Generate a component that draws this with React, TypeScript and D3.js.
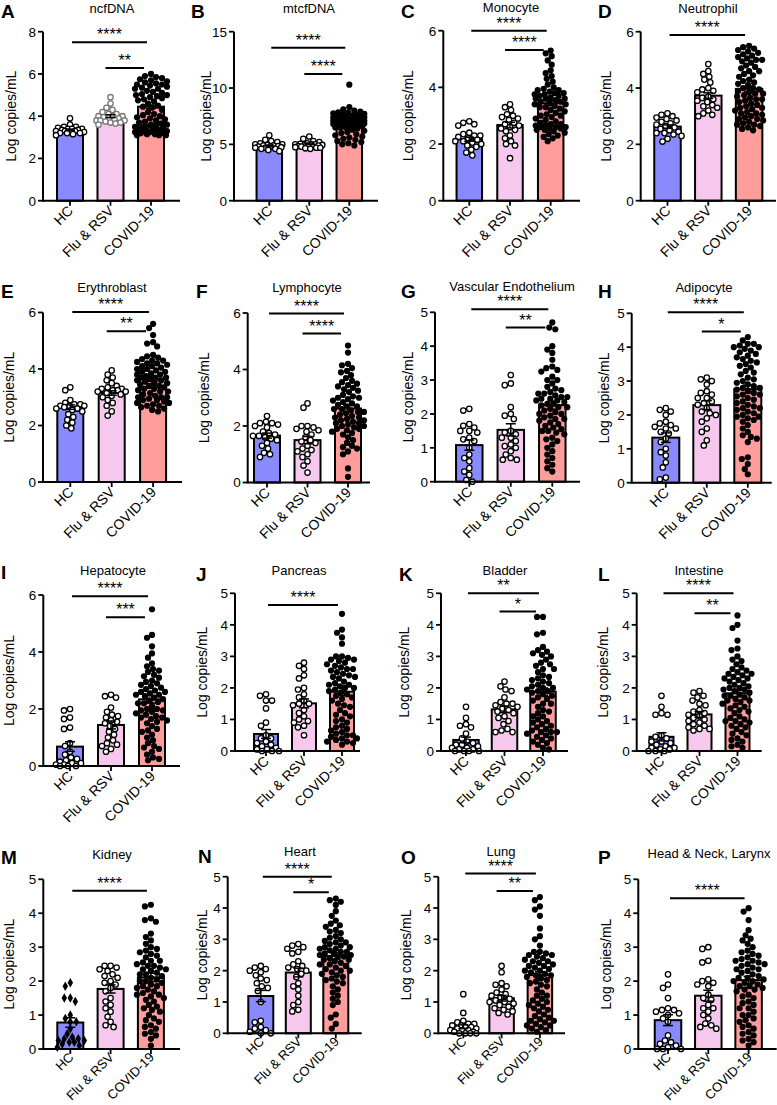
import React from "react";
import * as d3 from "d3";

const FONT = "'Liberation Sans', Arial, Helvetica, sans-serif";
const GROUPS = ["HC", "Flu & RSV", "COVID-19"];
const FILLS = ["#8a8aff", "#f6c8ee", "#ff9c9c"];

const LETTERS = ["A","B","C","D","E","F","G","H","I","J","K","L","M","N","O","P"];
const TITLES = ["ncfDNA","mtcfDNA","Monocyte","Neutrophil","Erythroblast","Lymphocyte","Vascular Endothelium","Adipocyte","Hepatocyte","Pancreas","Bladder","Intestine","Kidney","Heart","Lung","Head & Neck, Larynx"];
const Y_MAX = [8,15,6,6,6,6,5,5,6,5,5,5,5,5,5,5];
const Y_TICKS = [
  [0,2,4,6,8],[0,5,10,15],[0,2,4,6],[0,2,4,6],[0,2,4,6],[0,2,4,6],[0,1,2,3,4,5],[0,1,2,3,4,5],
  [0,2,4,6],[0,1,2,3,4,5],[0,1,2,3,4,5],[0,1,2,3,4,5],[0,1,2,3,4,5],[0,1,2,3,4,5],[0,1,2,3,4,5],[0,1,2,3,4,5]
];
const MEANS = [
  [3.35,4.0,4.45],[4.85,5.05,6.9],[2.17,2.67,3.44],[2.63,3.73,3.97],
  [2.65,3.15,3.65],[1.66,1.5,2.62],[1.08,1.53,2.26],[1.33,2.29,2.76],
  [0.68,1.44,2.34],[0.54,1.51,1.88],[0.35,1.32,1.88],[0.45,1.16,1.83],
  [0.78,1.77,2.11],[1.19,1.94,2.47],[0.21,1.12,1.86],[0.85,1.57,2.03]
];
const SEMS = [
  [0.04,0.07,0.08],[0.07,0.07,0.1],[0.07,0.1,0.09],[0.06,0.1,0.09],
  [0.08,0.08,0.08],[0.09,0.13,0.12],[0.15,0.18,0.12],[0.14,0.13,0.12],
  [0.17,0.14,0.13],[0.14,0.14,0.12],[0.09,0.1,0.12],[0.13,0.09,0.11],
  [0.14,0.12,0.12],[0.18,0.14,0.1],[0.06,0.09,0.11],[0.16,0.16,0.11]
];
// [fromGroup, toGroup, y value, label]
const SIGS: [number, number, number, string][][] = [
  [[0,2,7.5,"****"],[1,2,6.28,"**"]],
  [[0,2,13.58,"****"],[1,2,11.24,"****"]],
  [[0,2,6.0,"****"],[1,2,5.32,"****"]],
  [[0,2,5.88,"****"]],
  [[0,2,6.02,"****"],[1,2,5.34,"**"]],
  [[0,2,5.98,"****"],[1,2,5.27,"****"]],
  [[0,2,5.09,"****"],[1,2,4.55,"**"]],
  [[0,2,5.03,"****"],[1,2,4.46,"*"]],
  [[0,2,5.96,"****"],[1,2,5.22,"***"]],
  [[0,2,4.63,"****"]],
  [[0,2,5.0,"**"],[1,2,4.42,"*"]],
  [[0,2,5.0,"****"],[1,2,4.37,"**"]],
  [[0,2,4.66,"****"]],
  [[0,2,5.0,"****"],[1,2,4.5,"*"]],
  [[0,2,5.1,"****"],[1,2,4.54,"**"]],
  [[0,2,4.44,"****"]]
];

// individual points
const A_HC = [3.9,3.6,3.5,3.5,3.45,3.4,3.4,3.4,3.35,3.35,3.3,3.3,3.3,3.25,3.25,3.2,3.2,3.2,3.15,3.1];
const A_FLU = [4.9,4.6,4.4,4.3,4.2,4.1,4.1,4.0,4.0,3.95,3.9,3.9,3.85,3.8,3.8,3.75,3.7,3.7,3.65,3.6,3.8,4.0];
const A_COV = [6.0,5.9,5.85,5.8,5.75,5.7,5.65,5.6,5.55,5.5,5.5,5.45,5.4,5.35,5.3,5.3,5.2,5.15,5.1,5.05,5.0,5.0,4.95,4.9,4.85,4.8,4.75,4.7,4.6,4.5,4.45,4.4,4.3,4.2,4.1,4.05,4.0,3.95,3.9,3.85,3.8,3.75,3.7,3.65,3.6,3.6,3.55,3.5,3.5,3.45,3.4,3.4,3.35,3.3,3.3,3.25,3.25,3.2,3.2,3.15,3.15,3.1,3.1,3.1,3.5];
const B_HC = [5.8,5.4,5.3,5.2,5.1,5.0,5.0,4.95,4.9,4.9,4.85,4.8,4.8,4.75,4.7,4.7,4.6,4.6,4.5,4.4];
const B_FLU = [5.7,5.5,5.3,5.2,5.1,5.05,5.0,5.0,4.95,4.9,4.85,4.8,4.8,4.75,4.7,4.7,4.65,4.6,4.8,5.0,4.9];
const B_COV = [10.3,8.3,8.1,8.0,7.9,7.85,7.8,7.75,7.7,7.65,7.6,7.55,7.5,7.5,7.45,7.4,7.4,7.35,7.3,7.3,7.25,7.2,7.2,7.15,7.1,7.1,7.05,7.0,7.0,6.95,6.9,6.9,6.85,6.8,6.8,6.75,6.7,6.7,6.65,6.6,6.55,6.5,6.5,6.4,6.3,6.2,6.1,6.0,5.9,5.8,5.7,5.6,5.5,5.4,5.3,5.2,5.1,5.0,4.9,6.6,6.8,7.0,7.2,7.4,6.9];
const C_HC = [2.8,2.75,2.7,2.65,2.4,2.35,2.3,2.3,2.25,2.2,2.15,2.1,2.1,2.05,2.0,1.95,1.9,1.8,1.7,1.6];
const C_FLU = [3.4,3.3,3.2,3.05,3.0,2.95,2.9,2.85,2.75,2.7,2.65,2.6,2.55,2.5,2.45,2.3,2.2,2.1,2.0,1.95,1.5];
const C_COV = [5.3,5.2,5.1,4.95,4.8,4.6,4.5,4.4,4.3,4.2,4.1,4.0,3.95,3.9,3.85,3.8,3.8,3.75,3.7,3.7,3.65,3.6,3.6,3.55,3.5,3.5,3.45,3.4,3.4,3.35,3.3,3.25,3.2,3.15,3.1,3.05,3.0,2.95,2.9,2.85,2.8,2.75,2.7,2.7,2.65,2.6,2.6,2.55,2.55,2.5,2.5,2.45,2.4,2.35,2.3,2.25,2.2,2.1,3.9,3.6,3.3,2.6,2.65,3.75,3.0];
const D_HC = [3.1,3.05,3.0,2.95,2.9,2.85,2.8,2.75,2.7,2.65,2.6,2.55,2.5,2.45,2.4,2.4,2.35,2.3,2.2,2.1];
const D_FLU = [4.85,4.6,4.5,4.4,4.3,4.2,4.0,3.95,3.9,3.85,3.7,3.65,3.6,3.55,3.5,3.4,3.35,3.3,3.2,3.1,3.0,3.05];
const D_COV = [5.5,5.45,5.4,5.35,5.3,5.2,5.15,5.1,5.05,5.0,4.95,4.9,4.8,4.75,4.7,4.6,4.5,4.45,4.4,4.3,4.2,4.15,4.1,4.0,3.95,3.9,3.85,3.8,3.75,3.7,3.65,3.6,3.55,3.5,3.45,3.4,3.35,3.3,3.25,3.2,3.15,3.1,3.05,3.0,2.95,2.9,2.85,2.8,2.75,2.7,2.65,2.6,2.55,2.5,3.1,3.3,3.6,4.0,4.6,5.0,2.7,2.9,3.8,4.25,5.25];
const E_HC = [3.35,3.25,2.9,2.8,2.75,2.75,2.7,2.7,2.7,2.65,2.6,2.6,2.55,2.5,2.4,2.3,2.2,2.1,2.0,1.9];
const E_FLU = [3.95,3.8,3.7,3.6,3.5,3.4,3.35,3.3,3.3,3.25,3.2,3.2,3.15,3.1,3.05,3.0,2.9,2.8,2.7,2.5,2.35,3.25];
const E_COV = [5.6,5.45,5.2,4.95,4.9,4.8,4.5,4.45,4.4,4.35,4.3,4.25,4.2,4.2,4.15,4.1,4.05,4.0,4.0,3.95,3.9,3.85,3.8,3.8,3.75,3.7,3.7,3.65,3.6,3.55,3.5,3.5,3.45,3.4,3.35,3.3,3.3,3.25,3.2,3.15,3.1,3.05,3.0,3.0,2.95,2.9,2.85,2.8,2.8,2.75,2.7,2.7,2.65,2.6,2.55,2.5,3.6,3.9,4.1,3.4,3.2,2.9,3.7,4.3,3.0];
const F_HC = [2.35,2.15,2.1,2.1,2.05,2.0,1.95,1.8,1.75,1.7,1.65,1.6,1.55,1.5,1.4,1.3,1.2,1.05,1.0,0.9,1.65];
const F_FLU = [2.8,2.65,2.0,2.0,1.95,1.9,1.8,1.7,1.6,1.5,1.45,1.4,1.3,1.2,1.15,1.1,1.0,0.9,0.75,0.6,0.35,1.85];
const F_COV = [4.85,4.6,4.2,4.15,4.05,3.95,3.9,3.7,3.6,3.55,3.5,3.45,3.4,3.35,3.3,3.2,3.1,3.05,3.0,2.95,2.9,2.85,2.8,2.75,2.7,2.6,2.55,2.5,2.5,2.45,2.4,2.35,2.3,2.25,2.2,2.2,2.15,2.1,2.05,2.0,2.0,1.95,1.9,1.85,1.8,1.75,1.7,1.6,1.5,1.4,1.3,1.25,1.2,1.1,1.0,0.5,0.2,3.8,3.0,2.6,2.3,1.9,2.7,3.25,2.1];
const G_HC = [2.15,2.1,1.7,1.65,1.6,1.5,1.5,1.45,1.3,1.25,1.2,1.0,0.8,0.7,0.6,0.4,0.2,0.05,0.0,0.3];
const G_FLU = [3.15,2.9,2.85,2.2,2.0,1.95,1.85,1.5,1.45,1.4,1.3,1.2,1.1,1.05,1.0,0.9,0.8,0.7,0.65,0.65,1.3];
const G_COV = [4.7,4.55,4.5,4.0,3.9,3.8,3.6,3.4,3.35,3.3,3.25,3.1,3.0,2.9,2.8,2.7,2.65,2.6,2.55,2.5,2.5,2.45,2.4,2.4,2.35,2.3,2.3,2.25,2.2,2.2,2.15,2.1,2.05,2.0,1.95,1.9,1.85,1.8,1.75,1.7,1.65,1.6,1.55,1.5,1.45,1.4,1.3,1.2,1.1,1.0,0.9,0.8,0.7,0.6,0.5,0.4,0.3,2.6,2.0,1.5,3.0,2.45,1.85,2.75,1.25];
const H_HC = [2.2,2.15,2.1,2.0,1.8,1.75,1.7,1.65,1.6,1.5,1.45,1.3,1.2,1.0,0.9,0.8,0.6,0.45,0.15,0.1,1.6];
const H_FLU = [3.1,3.05,3.0,2.9,2.7,2.65,2.6,2.5,2.4,2.35,2.3,2.2,2.1,2.05,2.0,1.9,1.8,1.6,1.5,1.25,1.1,2.5];
const H_COV = [4.3,4.2,4.1,4.1,4.05,4.0,4.0,3.95,3.9,3.85,3.8,3.7,3.6,3.55,3.5,3.45,3.4,3.3,3.2,3.1,3.05,3.0,2.95,2.9,2.85,2.8,2.75,2.7,2.65,2.6,2.55,2.5,2.45,2.4,2.35,2.3,2.25,2.2,2.15,2.1,2.05,2.0,1.95,1.9,1.85,1.8,1.7,1.6,1.5,1.4,1.35,1.3,0.75,0.55,0.4,0.25,3.75,3.25,2.6,2.2,1.95,3.65,2.8,1.2,0.7];
const I_HC = [2.0,1.95,1.7,1.65,1.35,1.3,0.7,0.5,0.4,0.3,0.25,0.2,0.15,0.1,0.1,0.05,0.05,0.0,0.0,0.0,0.8];
const I_FLU = [2.5,2.45,2.4,2.05,1.9,1.75,1.7,1.6,1.55,1.5,1.4,1.3,1.2,1.0,0.9,0.8,0.75,0.7,0.6,0.5,1.1,1.8];
const I_COV = [5.5,4.6,4.5,4.2,3.95,3.8,3.5,3.4,3.3,3.2,3.15,3.1,3.0,2.95,2.9,2.8,2.75,2.7,2.65,2.6,2.55,2.5,2.45,2.4,2.35,2.3,2.25,2.2,2.1,2.0,1.95,1.9,1.85,1.8,1.75,1.7,1.65,1.6,1.5,1.4,1.3,1.2,1.1,1.0,0.9,0.8,0.7,0.6,0.5,0.4,0.3,0.2,2.6,2.2,1.7,3.6,2.85,1.95,3.35,0.65,1.55,2.5,1.25,0.25,2.0];
const J_HC = [1.8,1.75,1.6,1.6,1.35,0.9,0.8,0.5,0.4,0.3,0.25,0.2,0.15,0.1,0.05,0.05,0.0,0.0,0.0,0.4];
const J_FLU = [2.8,2.7,2.6,2.4,2.3,2.0,1.95,1.8,1.7,1.6,1.5,1.45,1.3,1.2,1.1,1.0,0.95,0.9,0.8,0.75,0.5,1.5];
const J_COV = [4.35,3.85,3.75,3.6,3.4,3.0,2.95,2.9,2.85,2.8,2.75,2.7,2.6,2.55,2.5,2.45,2.4,2.35,2.3,2.2,2.15,2.1,2.05,2.0,1.95,1.9,1.85,1.8,1.7,1.6,1.5,1.4,1.3,1.2,1.1,1.0,0.9,0.8,0.7,0.65,0.6,0.55,0.5,0.45,0.4,0.35,0.3,0.25,0.2,2.6,2.1,1.75,2.9,0.75,0.5,1.45,2.35,0.3,2.65,1.65,2.0,0.95,3.0,1.15,0.4];
const K_HC = [1.4,1.05,0.85,0.8,0.75,0.55,0.4,0.3,0.25,0.2,0.2,0.15,0.1,0.1,0.05,0.05,0.0,0.0,0.0,0.0];
const K_FLU = [2.2,2.05,1.95,1.9,1.7,1.55,1.5,1.45,1.4,1.35,1.3,1.25,1.2,1.1,1.05,0.95,0.85,0.7,0.65,0.6,0.6,1.5];
const K_COV = [4.25,4.25,3.75,3.7,3.3,3.2,3.1,3.05,3.0,2.9,2.8,2.75,2.7,2.6,2.5,2.4,2.3,2.25,2.2,2.15,2.1,2.0,1.95,1.9,1.85,1.8,1.75,1.7,1.6,1.5,1.4,1.3,1.2,1.1,1.0,0.9,0.85,0.8,0.7,0.65,0.6,0.6,0.55,0.5,0.45,0.4,0.35,0.3,0.25,0.2,0.1,0.05,2.05,1.5,0.95,2.6,1.25,3.15,0.75,1.9,2.35,0.6,1.65,2.0,1.1];
const L_HC = [1.75,1.4,1.2,1.15,1.15,0.5,0.45,0.4,0.3,0.25,0.2,0.15,0.1,0.1,0.05,0.05,0.0,0.0,0.0,0.3];
const L_FLU = [1.9,1.85,1.75,1.7,1.6,1.5,1.45,1.3,1.2,1.15,1.1,1.05,1.0,0.95,0.9,0.85,0.8,0.75,0.7,0.7,0.65,1.25];
const L_COV = [4.3,4.0,3.9,3.5,3.25,3.2,3.0,2.9,2.85,2.6,2.55,2.5,2.45,2.4,2.35,2.3,2.25,2.2,2.15,2.1,2.05,2.0,1.95,1.9,1.85,1.8,1.75,1.7,1.65,1.6,1.55,1.5,1.45,1.4,1.3,1.2,1.1,1.0,0.95,0.9,0.85,0.8,0.7,0.6,0.5,0.4,0.3,0.2,0.15,0.1,2.65,1.95,1.35,2.75,0.75,1.25,2.0,0.55,1.6,2.3,1.05,0.35,2.45,1.75,0.95];
const M_HC = [1.95,1.85,1.5,1.5,1.4,1.0,0.9,0.8,0.6,0.45,0.35,0.3,0.3,0.25,0.25,0.2,0.2,0.15,0.1,0.05,0.8];
const M_FLU = [2.45,2.45,2.4,2.35,2.3,2.2,2.15,2.1,2.0,1.95,1.9,1.8,1.7,1.5,1.4,1.3,1.2,1.1,0.95,0.8,0.7,0.65];
const M_COV = [4.25,4.2,3.85,3.8,3.75,3.4,3.3,3.2,3.1,2.9,2.85,2.8,2.7,2.6,2.55,2.5,2.45,2.4,2.35,2.3,2.25,2.2,2.15,2.1,2.05,2.0,1.95,1.9,1.85,1.8,1.75,1.7,1.65,1.6,1.55,1.5,1.4,1.3,1.2,1.1,1.0,0.9,0.8,0.7,0.6,0.5,0.4,0.3,0.1,2.6,2.0,1.45,2.75,0.85,2.45,1.85,3.0,0.65,2.2,1.15,2.95,1.6,0.45,2.35,1.25];
const N_HC = [2.15,2.1,2.05,2.0,1.95,1.85,1.75,1.7,1.6,1.5,1.45,1.35,1.0,0.4,0.35,0.2,0.15,0.1,0.05,0.0,0.0];
const N_FLU = [2.85,2.8,2.75,2.7,2.6,2.55,2.3,2.2,2.1,2.05,2.0,1.9,1.8,1.6,1.5,1.4,1.2,1.0,0.9,0.75,0.7,2.15];
const N_COV = [4.3,4.25,4.2,4.1,3.9,3.75,3.5,3.45,3.4,3.3,3.2,3.1,3.05,3.0,2.95,2.9,2.85,2.8,2.75,2.7,2.7,2.65,2.6,2.55,2.5,2.5,2.45,2.4,2.35,2.3,2.25,2.2,2.15,2.1,2.05,2.0,1.95,1.9,1.85,1.8,1.7,1.6,1.5,1.4,1.3,1.2,1.1,1.0,0.9,0.6,0.5,0.3,0.15,2.6,2.35,2.0,3.25,2.75,1.65,2.45,3.6,2.9,1.75,2.2,2.55];
const O_HC = [1.25,0.65,0.4,0.35,0.3,0.3,0.25,0.25,0.2,0.2,0.15,0.15,0.1,0.1,0.1,0.05,0.05,0.0,0.0,0.0,0.0];
const O_FLU = [2.15,1.95,1.6,1.55,1.5,1.4,1.3,1.25,1.2,1.15,1.1,1.05,1.0,0.95,0.9,0.85,0.8,0.75,0.7,0.65,0.6,1.0];
const O_COV = [4.35,4.25,4.05,3.95,3.75,3.35,3.1,3.0,2.6,2.55,2.5,2.45,2.4,2.35,2.3,2.25,2.2,2.15,2.1,2.05,2.0,1.95,1.9,1.85,1.8,1.75,1.7,1.6,1.5,1.4,1.3,1.2,1.1,1.0,0.95,0.9,0.85,0.8,0.7,0.6,0.55,0.5,0.45,0.4,0.35,0.3,0.25,0.2,0.15,0.1,0.05,2.6,2.0,1.55,2.5,1.2,0.75,2.3,1.65,0.4,2.15,1.05,0.25,1.85,2.8];
const P_HC = [2.2,1.9,1.8,1.5,1.2,1.15,1.1,1.05,1.0,0.9,0.8,0.4,0.25,0.2,0.15,0.1,0.05,0.0,0.0,0.0,1.15];
const P_FLU = [3.0,2.95,2.6,2.55,2.05,2.0,1.95,1.9,1.85,1.6,1.5,1.3,1.2,1.1,1.0,0.9,0.75,0.7,0.65,0.6,1.45,1.2];
const P_COV = [4.15,4.05,3.8,3.5,3.35,3.25,3.2,3.0,2.9,2.8,2.7,2.65,2.6,2.55,2.5,2.45,2.4,2.35,2.3,2.25,2.2,2.15,2.1,2.05,2.0,1.95,1.9,1.85,1.8,1.75,1.7,1.6,1.5,1.4,1.3,1.2,1.1,1.0,0.9,0.8,0.7,0.6,0.5,0.4,0.3,0.25,0.2,0.1,2.6,2.0,1.55,2.75,1.2,0.65,2.35,1.85,3.1,0.45,2.5,1.0,2.1,1.75,0.85,2.85,1.35];

const POINTS = [
  [A_HC,A_FLU,A_COV],[B_HC,B_FLU,B_COV],[C_HC,C_FLU,C_COV],[D_HC,D_FLU,D_COV],
  [E_HC,E_FLU,E_COV],[F_HC,F_FLU,F_COV],[G_HC,G_FLU,G_COV],[H_HC,H_FLU,H_COV],
  [I_HC,I_FLU,I_COV],[J_HC,J_FLU,J_COV],[K_HC,K_FLU,K_COV],[L_HC,L_FLU,L_COV],
  [M_HC,M_FLU,M_COV],[N_HC,N_FLU,N_COV],[O_HC,O_FLU,O_COV],[P_HC,P_FLU,P_COV]
];

// layout: axisX, firstCenter, step, barWidth, xEnd, y0, yTop, titleX, titleY, letterX, letterY, ylabelX
const LAYOUT = [
  [43, 70, 40.5, 26, 180, 200.7, 31.7, 112, 13, 1, 18, 11],
  [234, 269.3, 40, 25.5, 378, 200.7, 31.7, 309, 13, 191, 18, 206],
  [443.3, 469.3, 40.7, 25.5, 580, 200.7, 30.7, 511, 12, 401, 18, 408],
  [640.7, 667.5, 40.8, 26.5, 776, 200.7, 31.7, 708, 13, 598, 18, 606],
  [43, 70.3, 41.4, 26, 182, 482, 312.5, 112, 292, 1, 298, 9],
  [247.7, 267, 40.5, 26, 370, 482.5, 313, 307, 292, 196, 298, 204],
  [435, 469.3, 41.5, 26.5, 580, 481.7, 312.3, 512, 291, 401, 298, 408],
  [631.7, 665.8, 41, 27, 771.7, 482.7, 313.3, 704, 292, 598, 298, 604],
  [43.3, 70, 41, 26, 180, 766, 595, 113, 575, 1, 579, 9],
  [235, 266, 38, 24, 360, 751, 593.3, 299, 575, 196, 581, 202],
  [441, 466, 38.5, 25.5, 568, 751, 593.3, 505, 575, 399, 581, 404],
  [636.7, 661.5, 38, 24, 761.7, 751, 593.3, 699, 575, 598, 581, 603],
  [43.3, 70.3, 40.3, 26, 180, 1049, 879.3, 112, 859, 1, 864, 9],
  [227.7, 260.8, 37.5, 25, 361.7, 1033.3, 876.7, 300, 856, 198, 863, 202],
  [438.3, 463.3, 38.3, 24.5, 565, 1033.3, 876.7, 501, 856, 401, 864, 406],
  [638.3, 668, 40.3, 26.5, 776.7, 1049, 879.3, 709, 858, 598, 864, 606]
];

function swarm(values: number[], y: (v: number) => number, cx: number, maxHalf: number, r: number) {
  const placed: { x: number; y: number }[] = [];
  const sorted = [...values].sort((a, b) => b - a);
  const minSep = 2 * r * 0.92;
  for (const v of sorted) {
    const py = y(v);
    let bestDx = 0;
    let bestD = -1;
    for (let k = 0; k <= 2 * maxHalf; k++) {
      const dx = (k % 2 === 0 ? 1 : -1) * Math.ceil(k / 2);
      let minD = Infinity;
      for (const p of placed) {
        const d = Math.hypot(p.x - (cx + dx), p.y - py);
        if (d < minD) minD = d;
      }
      if (minD >= minSep) { bestDx = dx; break; }
      if (minD > bestD) { bestD = minD; bestDx = dx; }
    }
    placed.push({ x: cx + bestDx, y: py });
  }
  return placed;
}

function Panel({ idx }: { idx: number }) {
  const [axisX, c0, step, bw, xEnd, y0, yTop, titleX, titleY, letterX, letterY, ylabX] = LAYOUT[idx];
  const y = d3.scaleLinear().domain([0, Y_MAX[idx]]).range([y0, yTop]);
  const x = d3.scaleLinear().domain([0, 2]).range([c0, c0 + 2 * step]);
  const r = 3.1;
  const diamond = d3.symbol().type(d3.symbolDiamond).size(26)() as string;
  const lastRow = idx >= 12;
  return (
    <g>
      <text x={letterX} y={letterY} fontSize={19} fontWeight="bold">{LETTERS[idx]}</text>
      <text x={titleX} y={titleY} fontSize={13} textAnchor="middle">{TITLES[idx]}</text>
      <text transform={`translate(${ylabX + 5},${(y0 + yTop) / 2}) rotate(-90)`} fontSize={14} textAnchor="middle">Log copies/mL</text>
      {GROUPS.map((g, gi) => {
        const cx = x(gi);
        const m = MEANS[idx][gi];
        return <rect key={"b" + gi} x={cx - bw / 2} y={y(m)} width={bw} height={y0 - y(m)} fill={FILLS[gi]} stroke="#000" strokeWidth={2} />;
      })}
      {GROUPS.map((g, gi) => {
        const cx = x(gi);
        const pts = swarm(POINTS[idx][gi], y, cx, gi === 2 ? bw / 2 + 3 : bw / 2 + 1, r);
        return (
          <g key={"p" + gi}>
            {pts.map((p, k) => {
              if (gi === 2) return <circle key={k} cx={p.x} cy={p.y} r={r} fill="#000" />;
              if (idx === 12 && gi === 0) return <path key={k} d={diamond} transform={`translate(${p.x},${p.y})`} fill="#000" />;
              const stroke = idx === 0 && gi === 1 ? "#777" : "#000";
              return <circle key={k} cx={p.x} cy={p.y} r={r - 0.4} fill="#fff" stroke={stroke} strokeWidth={1.3} />;
            })}
          </g>
        );
      })}
      {GROUPS.map((g, gi) => {
        const cx = x(gi);
        const m = MEANS[idx][gi];
        const s = SEMS[idx][gi];
        return (
          <g key={"e" + gi} stroke="#000" strokeWidth={1.5}>
            <line x1={cx} x2={cx} y1={y(m - s)} y2={y(m + s)} />
            <line x1={cx - 5} x2={cx + 5} y1={y(m + s)} y2={y(m + s)} />
            <line x1={cx - 5} x2={cx + 5} y1={y(m - s)} y2={y(m - s)} />
          </g>
        );
      })}
      <line x1={axisX} x2={axisX} y1={y0 + 1} y2={yTop} stroke="#000" strokeWidth={2} />
      <line x1={axisX} x2={xEnd} y1={y0} y2={y0} stroke="#000" strokeWidth={2} />
      {Y_TICKS[idx].map((t) => (
        <g key={"t" + t}>
          <line x1={axisX - 5} x2={axisX} y1={y(t)} y2={y(t)} stroke="#000" strokeWidth={1.8} />
          <text x={axisX - 7} y={y(t)} dy="0.36em" fontSize={13.5} textAnchor="end">{t}</text>
        </g>
      ))}
      {GROUPS.map((g, gi) => {
        const cx = x(gi);
        return (
          <g key={"x" + gi}>
            <line x1={cx} x2={cx} y1={y0} y2={y0 + 5} stroke="#000" strokeWidth={1.8} />
            <text transform={`translate(${cx + 4},${y0 + (lastRow ? 9 : 11)}) rotate(-45)`} fontSize={lastRow ? 13 : 14} textAnchor="end">{g}</text>
          </g>
        );
      })}
      {SIGS[idx].map(([a, b, v, lab], k) => {
        const x1 = x(a) + (a === 0 ? 2 : -5);
        const x2 = x(b) + (a === 0 ? -4 : -7);
        const yy = y(v);
        return (
          <g key={"s" + k}>
            <line x1={x1} x2={x2} y1={yy} y2={yy} stroke="#000" strokeWidth={2} />
            <text x={(x1 + x2) / 2} y={yy - 2} fontSize={16} textAnchor="middle">{lab}</text>
          </g>
        );
      })}
    </g>
  );
}

export default function App() {
  return (
    <svg width={777} height={1105} style={{ position: "absolute", left: 0, top: 0, background: "#fff" }} fontFamily={FONT}>
      <rect width={777} height={1105} fill="#fff" />
      {LETTERS.map((_, i) => <Panel key={i} idx={i} />)}
    </svg>
  );
}
